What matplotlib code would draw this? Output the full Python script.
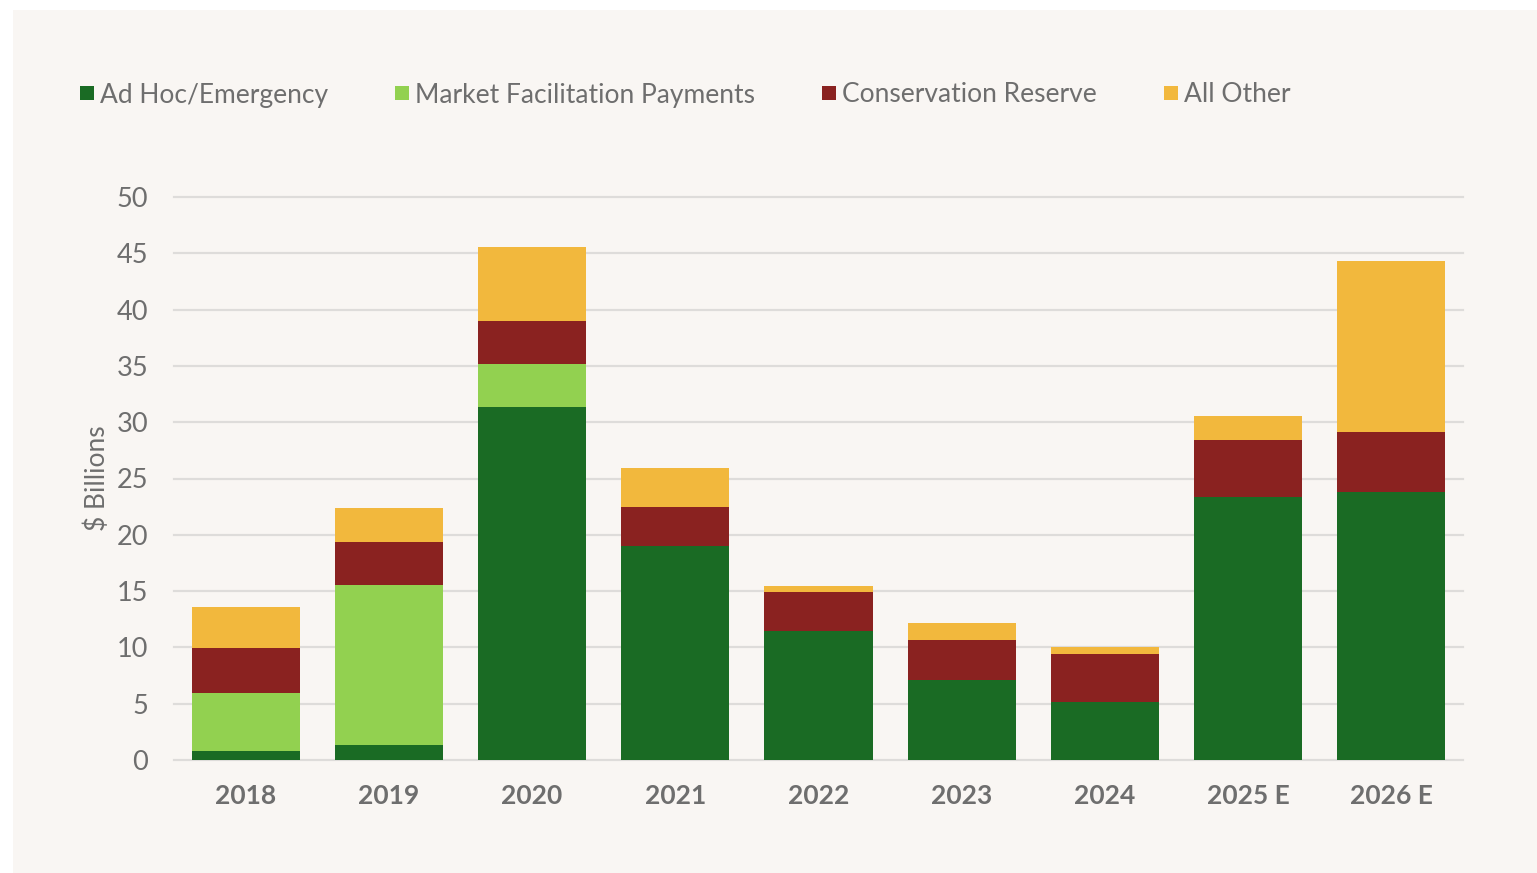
import matplotlib
matplotlib.use("Agg")
import matplotlib.pyplot as plt
from matplotlib.patches import Rectangle
import numpy as np

plt.rcParams['font.family'] = ['Lato', 'DejaVu Sans']

categories = ["2018", "2019", "2020", "2021", "2022", "2023", "2024", "2025 E", "2026 E"]
ad_hoc = [0.8, 1.35, 31.35, 19.0, 11.45, 7.1, 5.15, 23.35, 23.8]
market_facilitation = [5.15, 14.2, 3.8, 0, 0, 0, 0, 0, 0]
conservation_reserve = [4.0, 3.8, 3.85, 3.5, 3.45, 3.55, 4.25, 5.05, 5.35]
all_other = [3.65, 3.05, 6.55, 3.45, 0.55, 1.5, 0.6, 2.15, 15.2]

series_names = ["Ad Hoc/Emergency", "Market Facilitation Payments", "Conservation Reserve", "All Other"]
colors = ["#1A6B24", "#92D150", "#8A2220", "#F2B83D"]

W, H = 1537, 873
fig = plt.figure(figsize=(W / 100, H / 100), dpi=100)
fig.patch.set_facecolor("white")
bg = "#F9F6F3"
fig.patches.append(Rectangle((13 / W, 0), (W - 13) / W, (H - 10) / H, transform=fig.transFigure,
                             facecolor=bg, edgecolor="none", zorder=-10))

ax = fig.add_axes([174 / W, 1 - 760 / H, (1463 - 174) / W, (760 - 197) / H])
ax.set_facecolor(bg)

x = np.arange(len(categories))
bottom = np.zeros(len(categories))
for vals, col in zip([ad_hoc, market_facilitation, conservation_reserve, all_other], colors):
    v = np.array(vals)
    ax.bar(x, v, width=0.755, bottom=bottom, color=col, edgecolor="none", zorder=3)
    bottom += v

ax.set_xlim(-0.5, 8.5)
ax.set_ylim(0, 50)
ax.set_yticks(np.arange(0, 51, 5))
ax.yaxis.grid(True, color="#DEDCDA", linewidth=1.6, zorder=0)
for gl in ax.get_ygridlines():
    gl.set_clip_on(False)
for s in ax.spines.values():
    s.set_visible(False)
ax.tick_params(axis="both", length=0)
ax.tick_params(axis="y", labelsize=19.5, labelcolor="#6E6E6E", pad=18.5)
ax.tick_params(axis="x", labelsize=19, labelcolor="#6E6E6E", pad=17)
ax.set_xticks(x)
ax.set_xticklabels(categories, fontweight="bold")
ax.set_ylabel("$ Billions", fontsize=19, color="#6E6E6E")
ax.yaxis.set_label_coords(-0.050, 0.5)

# legend
leg_x = [80, 395, 822, 1164]
for lx, name, col in zip(leg_x, series_names, colors):
    fig.patches.append(Rectangle((lx / W, 1 - 100 / H), 14 / W, 14 / H, transform=fig.transFigure,
                                 facecolor=col, edgecolor="none"))
    fig.text((lx + 20) / W, 1 - 95 / H, name, fontsize=19, color="#6E6E6E", va="center", ha="left")

fig.savefig("out.png", dpi=100, facecolor=fig.get_facecolor())
